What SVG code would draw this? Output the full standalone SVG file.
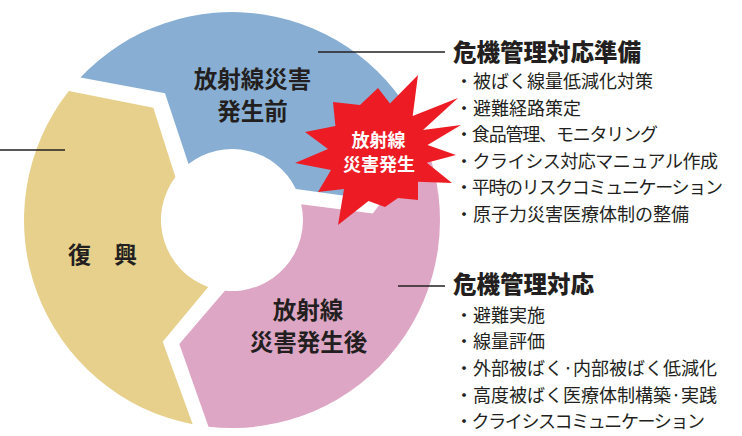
<svg xmlns="http://www.w3.org/2000/svg" width="742" height="436" viewBox="0 0 742 436">
<style>
.lbl{font-family:"Noto Sans CJK JP","Noto Sans",sans-serif;font-weight:700;fill:#231f20;text-anchor:middle}
.star{font-family:"Noto Sans CJK JP","Noto Sans",sans-serif;font-weight:700;fill:#ffffff;text-anchor:middle;font-size:18px}
.ttl{font-family:"Noto Sans CJK JP","Noto Sans",sans-serif;font-weight:900;fill:#231f20;font-size:23.5px}
.itm{font-family:"Noto Sans CJK JP","Noto Sans",sans-serif;font-weight:400;fill:#231f20;font-size:18px}
.lead{stroke:#231f20;stroke-width:1.3;fill:none}
</style>
<rect width="742" height="436" fill="#ffffff"/>
<g id="recovery">
<path d="M192.7,424.3 A208,208 0 0 1 68.8,91.1 L153.3,107.7 L175.4,177.1 A71,71 0 0 0 208.2,286.9 L162.7,341.7 Z" fill="#e6d08b"/>
<text class="lbl" x="102.5" y="262.5" font-size="23">復　興</text>
</g>
<g id="before-disaster">
<path d="M80.4,77.6 A208,208 0 0 1 420.5,132.1 L366.3,198.7 L295.8,188.9 A71,71 0 0 0 188.5,163.9 L165,93.3 Z" fill="#88afd3"/>
<text class="lbl" x="252.5" y="88" font-size="23.5">放射線災害</text>
<text class="lbl" x="252.5" y="120" font-size="23.5">発生前</text>
</g>
<g id="after-disaster">
<path d="M425.5,143.8 A208,208 0 0 1 208.5,426.7 L179.3,344 L224.9,290.7 A71,71 0 0 0 301.2,204.3 L372.8,213.4 Z" fill="#dda6c4"/>
<text class="lbl" x="308" y="318.5" font-size="23.5">放射線</text>
<text class="lbl" x="308.5" y="351" font-size="23.5">災害発生後</text>
</g>
<g id="disaster-occurs">
<polygon points="378,88 390,103.5 418,75 412.7,116 458,98 423,130 461,125 427.5,145 456,155 426.8,162.8 452,183 418,181.7 418,200 398,198 385,207 368.5,201 338,225 344,189 318,192 331,170 295,163 328,149 305,132 335.4,126 333,102 360,105" fill="#ed1c24"/>
<text class="star" x="378.5" y="147">放射線</text>
<text class="star" x="379" y="171">災害発生</text>
</g>
<g id="connectors">
<line class="lead" x1="318" y1="52" x2="445" y2="52"/>
<line class="lead" x1="0" y1="150" x2="65" y2="150"/>
<line class="lead" x1="398" y1="286" x2="445" y2="286"/>
</g>
<g id="preparedness">
<text class="ttl" x="453" y="60.5">危機管理対応準備</text>
<text class="itm" x="455" y="88">・被ばく線量低減化対策</text>
<text class="itm" x="455" y="114.5">・避難経路策定</text>
<text class="itm" x="455" y="141" textLength="203">・食品管理、モニタリング</text>
<text class="itm" x="455" y="167.5" textLength="263">・クライシス対応マニュアル作成</text>
<text class="itm" x="455" y="194" textLength="268">・平時のリスクコミュニケーション</text>
<text class="itm" x="455" y="220.5">・原子力災害医療体制の整備</text>
</g>
<g id="response">
<text class="ttl" x="453" y="292.5">危機管理対応</text>
<text class="itm" x="455" y="321.5">・避難実施</text>
<text class="itm" x="455" y="348">・線量評価</text>
<text class="itm" x="455" y="374.5">・外部被ばく·内部被ばく低減化</text>
<text class="itm" x="455" y="401.5">・高度被ばく医療体制構築·実践</text>
<text class="itm" x="455" y="428" textLength="250">・クライシスコミュニケーション</text>
</g>
</svg>
